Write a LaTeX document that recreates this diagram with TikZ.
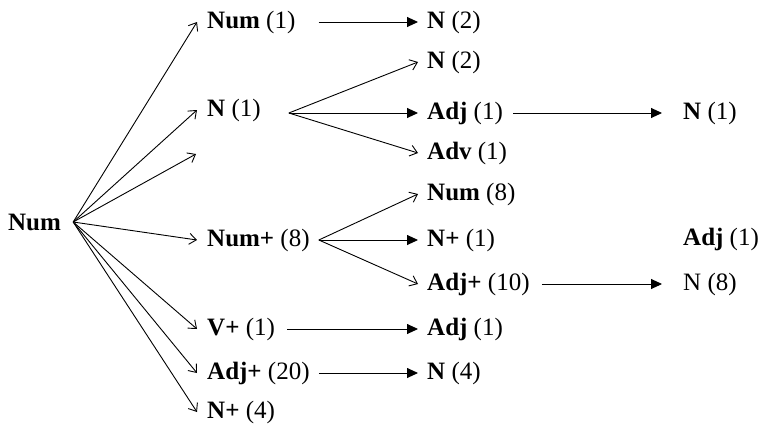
\documentclass[tikz,border=0pt]{standalone}
\usepackage{fontspec}
\setmainfont{Liberation Serif}
\usetikzlibrary{arrows.meta}

\begin{document}
\begin{tikzpicture}[x=1pt,y=-1pt,line join=round,
  lbl/.style={anchor=west,inner sep=0pt,font=\fontsize{25}{30}\selectfont},
  barb/.style={line width=0.9pt,-{Straight Barb[length=7pt,width=11pt]}},
  tri/.style={line width=0.9pt,-{Triangle[length=11pt,width=10pt]}}]
\useasboundingbox (0,0) rectangle (762,426);
\def\xa{207}   % first column
\def\xb{427}   % second column
\def\xc{683}   % third column

% ---- root ----
\node[lbl] (root) at (8,222) {\textbf{Num}};

% ---- first column ----
\foreach \n/\y/\t in {%
    l1num/22/{\textbf{Num} (1)},
    l1n/110/{\textbf{N} (1)},
    l1nump/240/{\textbf{Num+} (8)},
    l1vp/329/{\textbf{V+} (1)},
    l1adjp/373/{\textbf{Adj+} (20)},
    l1np/412/{\textbf{N+} (4)}}
  \node[lbl] (\n) at (\xa,\y) {\t};
\coordinate (blank) at (196,154);

% ---- second column ----
\foreach \n/\y/\t in {%
    l2n/22/{\textbf{N} (2)},
    l2nb/62/{\textbf{N} (2)},
    l2adj/113/{\textbf{Adj} (1)},
    l2adv/153/{\textbf{Adv} (1)},
    l2num/194/{\textbf{Num} (8)},
    l2np/240/{\textbf{N+} (1)},
    l2adjp/284/{\textbf{Adj+} (10)},
    l2adjb/329/{\textbf{Adj} (1)},
    l2nd/373/{\textbf{N} (4)}}
  \node[lbl] (\n) at (\xb,\y) {\t};

% ---- third column ----
\node[lbl] (l3n)   at (\xc,113) {\textbf{N} (1)};
\node[lbl] (l3adj) at (\xc,239) {\textbf{Adj} (1)};
\node[lbl] (l3nh)  at (\xc,284) {N (8)};

% ---- fan out of the root ----
\foreach \n in {l1num,l1n,l1nump,l1vp,l1adjp,l1np}
  \draw[barb] ([xshift=12pt]root.east) -- ([xshift=-10pt]\n.west);
\draw[barb] ([xshift=12pt]root.east) -- (blank);

% ---- forks ----
\coordinate (fa) at ([xshift=28pt,yshift=-3pt]l1n.east);
\coordinate (fb) at ([xshift=9pt]l1nump.east);
\draw[barb] (fa) -- ([xshift=-9pt]l2nb.west);
\draw[tri]  (fa) -- ([xshift=-9pt]l2adj.west);
\draw[barb] (fa) -- ([xshift=-9pt]l2adv.west);
\draw[barb] (fb) -- ([xshift=-9pt]l2num.west);
\draw[tri]  (fb) -- ([xshift=-9pt]l2np.west);
\draw[barb] (fb) -- ([xshift=-9pt]l2adjp.west);

% ---- straight links ----
\foreach \a/\b/\g/\h in {%
    l1num/l2n/23/9,
    l1vp/l2adjb/12/9,
    l1adjp/l2nd/9/9,
    l2adj/l3n/10/21,
    l2adjp/l3nh/12/21}
  \draw[tri] ([xshift=\g pt]\a.east) -- ([xshift=-\h pt]\b.west);
\end{tikzpicture}
\end{document}
